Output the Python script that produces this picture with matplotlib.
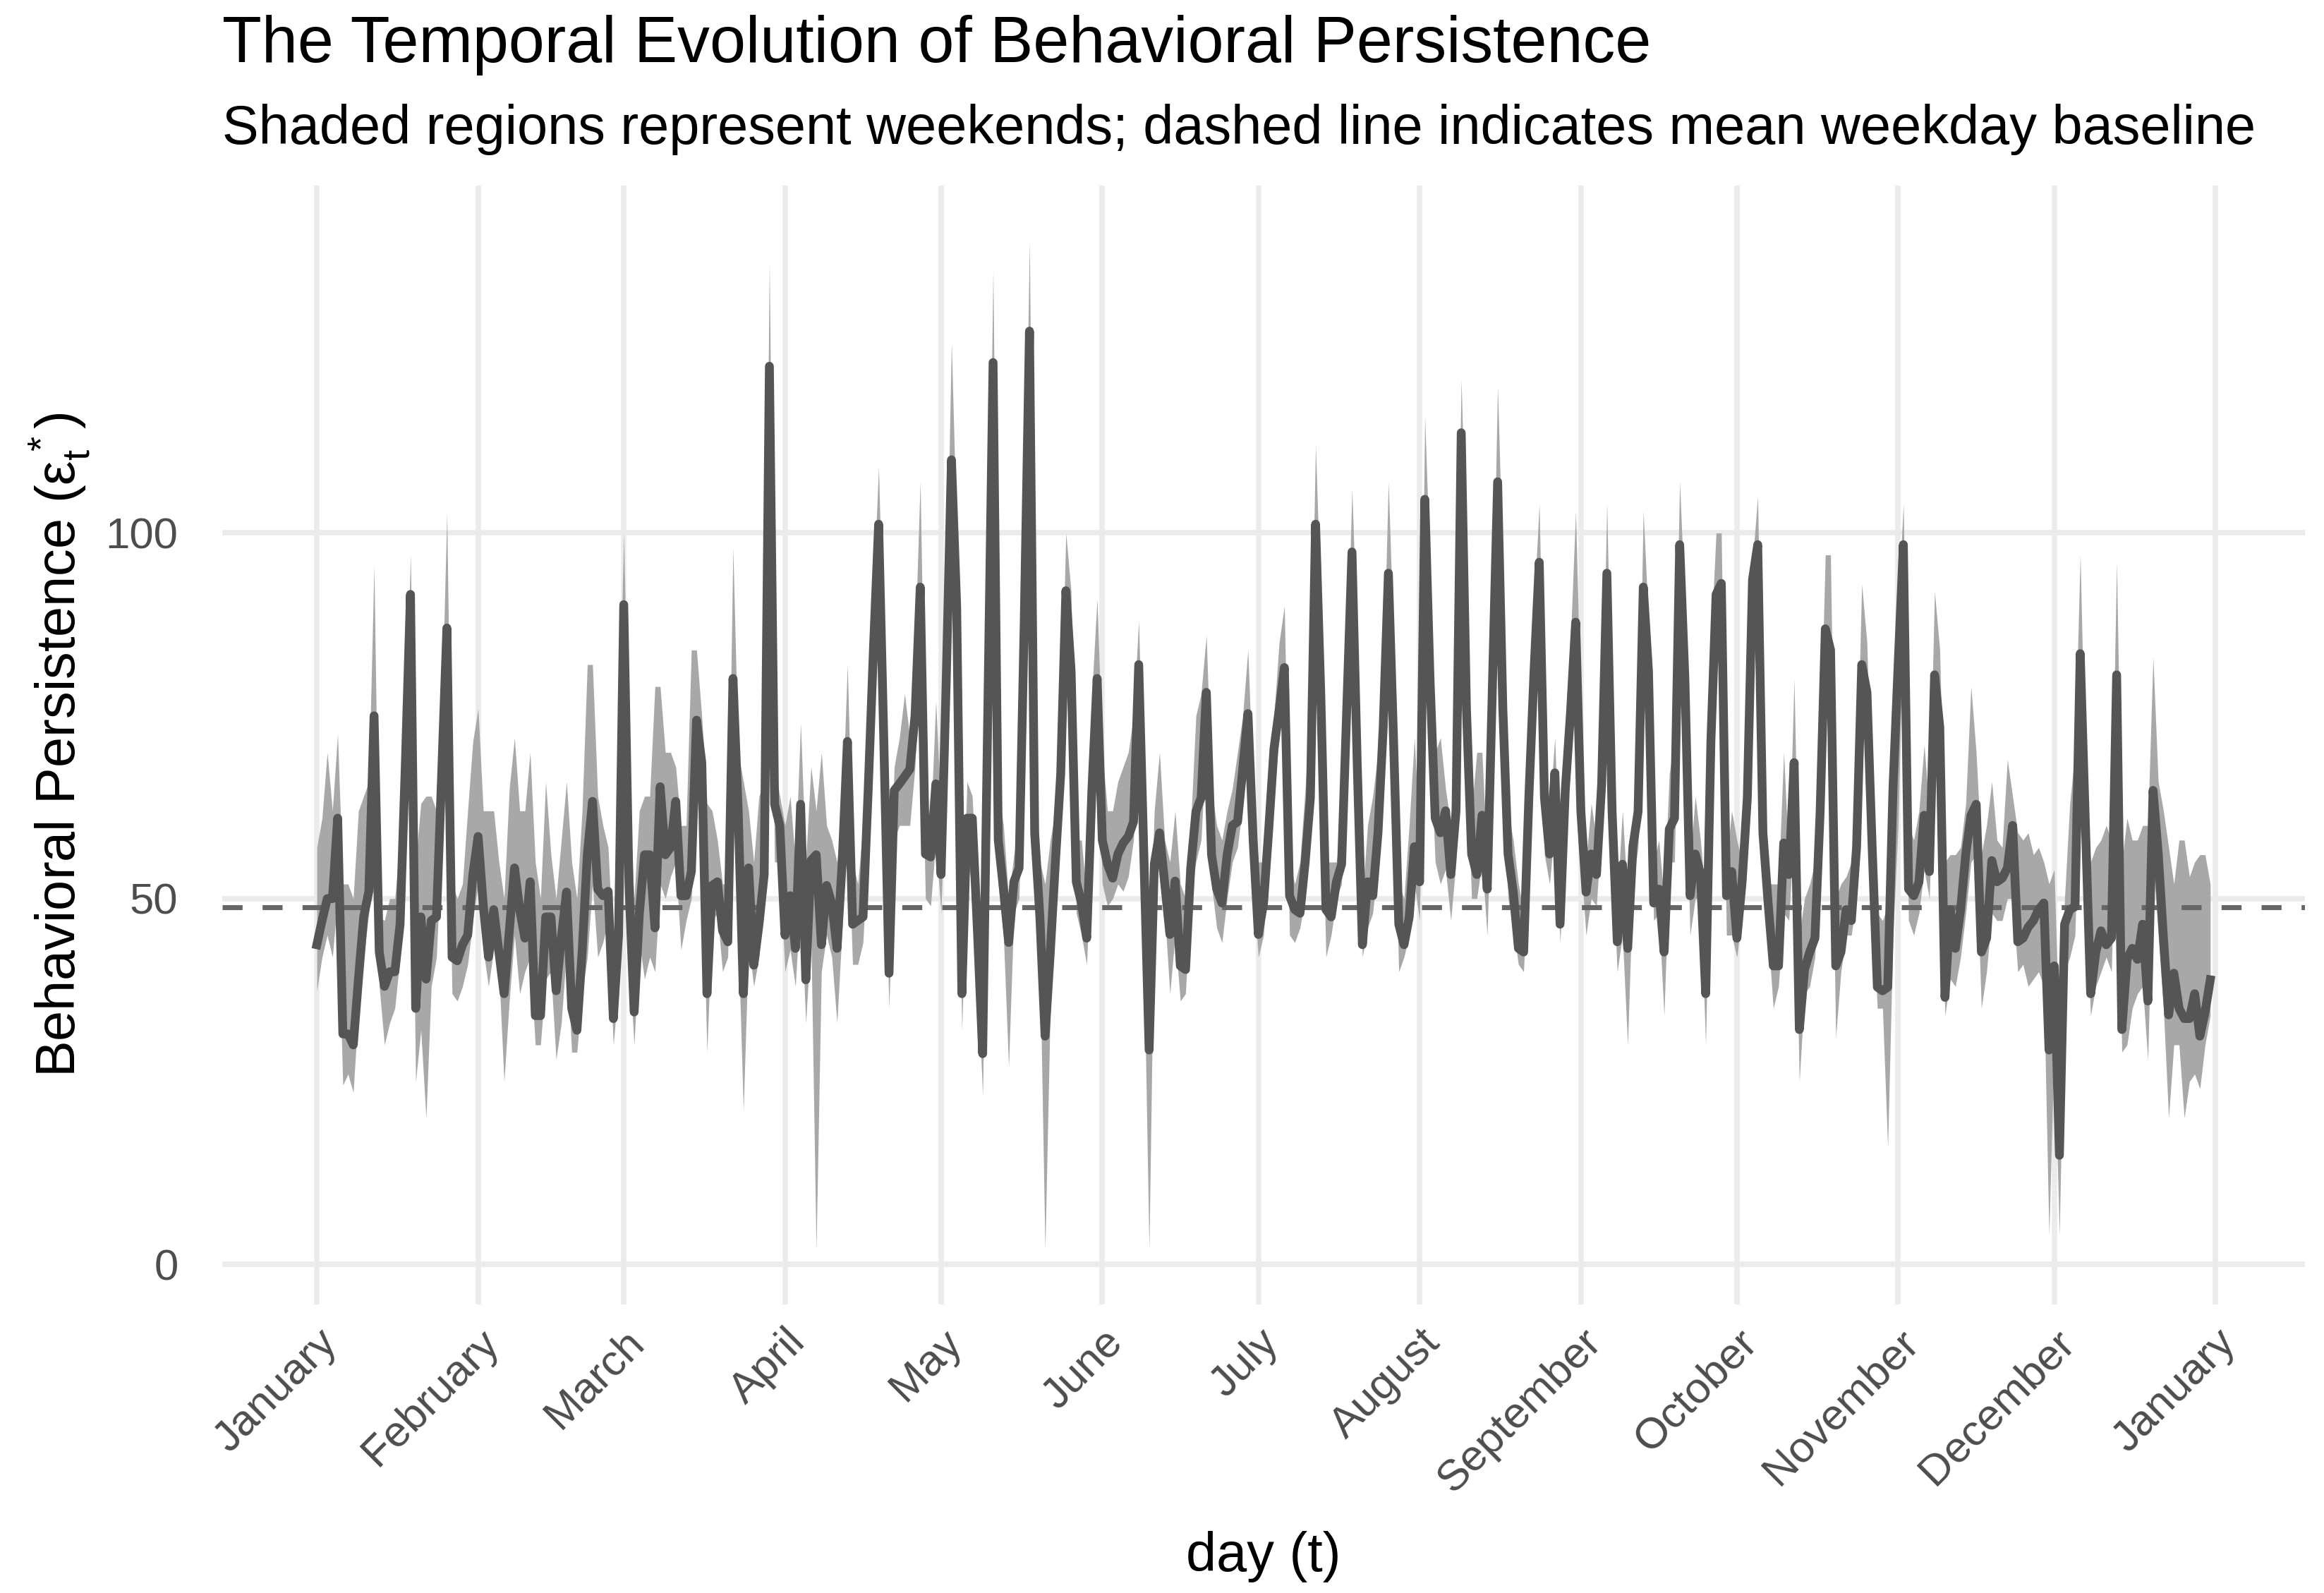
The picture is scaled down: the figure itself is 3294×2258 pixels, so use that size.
import matplotlib.pyplot as plt
import matplotlib.dates as mdates
import numpy as np
import pandas as pd

# daily behavioral persistence, one row per month
persistence = [
    43.7, 47, 50, 50, 61, 31.5, 31.5, 30, 39, 47.5, 51, 75, 42.7, 38, 40, 40, 46.5, 68, 91.6, 35, 47.5, 39, 47, 47.5, 67, 87, 42, 41.5, 43.7, 45, 53.3,
    58.5, 49, 42, 48.5, 42.7, 37, 45.6, 54.2, 48.5, 44.6, 52.3, 34, 34, 47.5, 47.5, 37.4, 44.6, 50.9, 35, 32, 42.7, 56, 63.3, 51.3, 50.4, 51, 33.6, 45,
    90.2, 52, 34.5, 48, 56, 56, 46, 65.3, 56, 57, 63.3, 50.4, 50.4, 53.7, 74.4, 68.6, 37, 51.8, 52.3, 45.6, 44.1, 80.1, 62, 37, 54.2, 40.9, 46.5, 53.3, 122.8, 62.9, 60,
    45, 50.4, 43.2, 62.9, 38.9, 55.2, 56, 43.7, 51.8, 49.3, 43.2, 55, 71.5, 46.5, 47, 47.5, 65, 84, 101.2, 71.5, 39.8, 64.8, 65.7, 66.7, 67.7, 75, 92.6, 56.1, 55.7, 65.7,
    53.3, 80, 110, 90, 37, 61, 61, 45.6, 28.8, 76, 123.3, 58, 51.3, 44, 52.3, 54.2, 88, 127.6, 59, 47.5, 31.2, 42.7, 55.2, 67, 92.1, 81.1, 52.3, 49.4, 44.6, 64.8, 80.1,
    58, 54.7, 52.8, 56.1, 57.6, 58.5, 60.5, 82, 55.7, 29.3, 54.7, 59, 52, 45.1, 52.4, 40.8, 40.3, 54.2, 61.9, 63.8, 78.2, 56, 51.3, 49.4, 56, 60, 60.5, 67.7, 75.3, 58,
    45.1, 49.4, 59.5, 70.5, 75.8, 81.6, 50.4, 48.5, 48, 55, 63.8, 101.2, 78, 48.5, 47.5, 52.3, 54.7, 76, 97.4, 68.6, 43.7, 52.3, 50.4, 59, 73.4, 94.5, 71.5, 46.5, 43.7, 47.5, 57.1,
    52.3, 104.6, 80, 61, 59, 62, 53.3, 62, 113.7, 76, 56.1, 53.3, 61.4, 51.3, 79, 107, 76, 56.1, 50.9, 43.2, 42.7, 63.8, 81.1, 96, 63.8, 56.1, 67.2, 46.5, 64.8, 75.3, 87.8,
    62, 50.9, 56.1, 53.3, 65.7, 94.5, 62, 44.1, 54.7, 43.2, 57.1, 61.9, 92.6, 81.1, 49.4, 51.3, 42.7, 59.5, 61, 98.4, 80, 50.4, 56.1, 53.3, 37, 71.5, 91.6, 93.1, 50.4, 53.7,
    44.6, 52.3, 63.8, 93.6, 98.4, 59, 49.4, 40.8, 40.8, 57.6, 53.3, 68.6, 32.1, 40.3, 42.7, 44.6, 61.9, 86.9, 84, 40.8, 42.7, 48.5, 47, 57, 82, 78.2, 57, 37.9, 37.4, 37.9, 65,
    82, 98.4, 51.3, 50.4, 52.3, 61.4, 53.7, 80.6, 73.4, 36.5, 48.5, 43.2, 48.5, 56.1, 61.4, 62.9, 42.7, 44.6, 55.2, 52.3, 52.8, 54.2, 60, 44.1, 44.6, 46.1, 47, 48.5, 49.4, 29.3,
    40.8, 14.9, 46.5, 48.5, 48.9, 83.5, 60, 37, 42.7, 45.6, 43.7, 44.6, 80.6, 32.1, 41.7, 43.2, 41.7, 46.5, 36, 64.8, 56.1, 44.6, 34.1, 39.8, 35, 33.6, 33.6, 37, 31.2, 34.5, 38.9,
]

# upper edge of the grey band
upper = [
    57, 61, 70, 62, 72.5, 52, 52, 50, 62, 64, 66, 95.5, 47.5, 47, 50, 50, 58, 72, 97, 55, 63, 64, 64, 62, 75, 102.7, 52, 50, 52, 62, 71.5,
    76, 62, 62, 62, 55, 50, 65, 72, 62, 62, 70, 55, 50, 66, 56, 50, 58, 66, 55, 50, 62, 82, 82, 64, 60, 57, 42, 70,
    100, 65, 50, 62, 64, 64, 79, 79, 70, 70, 68, 60, 60, 84, 84, 75, 63, 62, 58, 52, 52, 98, 70, 66, 62, 55, 64, 66, 137, 68, 64,
    60, 64, 55, 74, 55, 68, 62, 70, 60, 58, 55, 62, 82, 55, 52, 60, 72, 92, 109, 82, 48, 68, 72, 78, 72, 85, 107, 65, 60, 77,
    62, 90, 126, 100, 45, 66, 64, 50, 35, 86, 136, 65, 60, 50, 56, 60, 95, 140, 65, 55, 52, 58, 62, 72, 100, 92, 58, 58, 50, 78, 91,
    70, 62, 62, 66, 68, 70, 75, 88, 62, 40, 62, 70, 58, 55, 62, 52, 50, 60, 75, 78, 86, 65, 60, 58, 62, 65, 70, 75, 84, 65,
    55, 55, 65, 75, 85, 90, 55, 52, 55, 65, 75, 112, 90, 55, 55, 55, 60, 80, 106, 85, 50, 60, 64, 70, 80, 107, 85, 52, 50, 60, 72,
    58, 116, 95, 70, 72, 65, 60, 75, 121, 95, 62, 70, 70, 55, 85, 120, 95, 62, 58, 52, 48, 70, 90, 104, 70, 62, 72, 52, 70, 85, 103,
    75, 55, 63, 58, 70, 104, 70, 50, 62, 50, 60, 65, 103, 88, 55, 58, 50, 67, 72, 107, 90, 55, 64, 58, 50, 85, 100, 100, 55, 62,
    58, 55, 75, 96, 105, 65, 52, 52, 52, 70, 55, 80, 45, 50, 52, 55, 70, 97, 97, 50, 52, 53, 55, 65, 93, 85, 60, 48, 47, 49, 75,
    90, 104, 60, 58, 62, 71, 62, 92, 84, 55, 56, 56, 57, 63, 79, 70, 56, 60, 66, 58, 57, 69, 64, 59, 58, 59, 56, 57, 55, 52,
    54, 30, 50, 63, 70, 97, 66, 55, 57, 58, 60, 58, 96, 55, 61, 58, 58, 60, 60, 83, 66, 62, 57, 52, 58, 58, 53, 55, 56, 56, 52,
]

# lower edge of the grey band
lower = [
    37.4, 42, 45, 42, 50, 24.5, 26, 23.5, 35, 42, 48, 65, 38, 30, 33, 35, 42, 60, 80, 25, 32, 20, 38, 42, 58, 75, 37, 36, 38, 41, 47,
    52, 43, 38, 43, 40, 25, 36, 45, 37, 40, 42, 30, 30, 39, 40, 28, 33, 43, 29, 29, 37, 42, 52, 42, 44, 47, 30, 38,
    78, 42, 30, 44, 39, 42, 40, 52, 50, 53, 55, 43, 47, 50, 65, 58, 29, 47, 48, 40, 42, 70, 45, 21, 44, 38, 42, 50, 110, 55, 55,
    40, 43, 38, 50, 33, 45, 2, 40, 45, 42, 33, 46, 62, 41, 41, 44, 58, 76, 92, 62, 35, 58, 60, 60, 60, 68, 85, 50, 49, 58,
    48, 70, 100, 80, 32, 55, 52, 40, 23, 66, 115, 52, 45, 27, 48, 50, 80, 115, 55, 42, 2, 35, 50, 60, 85, 75, 48, 45, 41, 58, 75,
    52, 49, 50, 52, 51, 53, 58, 75, 42, 2, 50, 55, 48, 37, 45, 36, 37, 50, 55, 58, 72, 52, 46, 44, 50, 55, 57, 63, 70, 52,
    42, 45, 55, 65, 72, 78, 45, 44, 46, 50, 60, 95, 72, 42, 45, 50, 52, 70, 92, 62, 42, 46, 48, 55, 68, 90, 66, 40, 42, 45, 52,
    47, 95, 72, 55, 52, 54, 47, 55, 105, 70, 50, 50, 55, 45, 70, 98, 70, 50, 46, 41, 40, 57, 75, 88, 56, 52, 60, 44, 58, 68, 80,
    55, 45, 50, 49, 60, 85, 55, 40, 45, 30, 52, 57, 80, 70, 47, 48, 34, 55, 55, 88, 72, 45, 50, 50, 30, 65, 85, 85, 45, 45,
    42, 48, 58, 85, 90, 55, 45, 35, 38, 48, 47, 60, 25, 37, 38, 42, 58, 80, 78, 31, 40, 45, 45, 50, 75, 70, 50, 35, 35, 16, 45,
    60, 90, 47, 45, 48, 54, 50, 72, 65, 34, 39, 38, 42, 48, 55, 56, 35, 40, 48, 47, 47, 50, 50, 40, 41, 38, 39, 40, 38, 4,
    30, 4, 40, 42, 45, 70, 50, 34, 38, 40, 42, 40, 68, 29, 30, 35, 37, 38, 28, 55, 45, 35, 20, 30, 30, 20, 25, 26, 24, 30, 34,
]

baseline = 48.8  # mean weekday level
start_date = '2023-01-01'

days = pd.date_range(start_date, periods=len(persistence), freq='D')

plt.rcParams['font.family'] = ['Liberation Sans', 'DejaVu Sans']
plt.rcParams['mathtext.fontset'] = 'custom'
plt.rcParams['mathtext.rm'] = 'Liberation Sans'
plt.rcParams['mathtext.it'] = 'Liberation Sans'

fig = plt.figure(figsize=(3294 / 300, 2258 / 300), dpi=300)
ax = fig.add_axes([0.0956, 0.1811, 0.8962, 0.7024])

ax.fill_between(days, lower, upper, color='#A8A8A8', lw=0, zorder=2)
ax.axhline(baseline, color='#666666', lw=1.7, dashes=(4, 4), zorder=3)
ax.plot(days, persistence, color='#555555', lw=3.0, zorder=4)

# ggplot-like expansion of 5% on both axes
pad = pd.Timedelta(days=18.2)
ax.set_xlim(days[0] - pad, days[-1] + pad)
ax.set_ylim(-5.5, 147.5)
ax.set_yticks([0, 50, 100])

ax.xaxis.set_major_locator(mdates.MonthLocator())
ax.xaxis.set_major_formatter(mdates.DateFormatter('%B'))
ax.grid(True, color='#EBEBEB', lw=1.8, zorder=0)
ax.set_axisbelow(True)
for s in ax.spines.values():
    s.set_visible(False)
ax.tick_params(length=0, colors='#4D4D4D', labelsize=14.8)
ax.tick_params(axis='y', pad=15)
ax.tick_params(axis='x', pad=6)
for lab in ax.get_xticklabels():
    lab.set_rotation(45)
    lab.set_ha('right')
    lab.set_va('top')
    lab.set_rotation_mode('anchor')

fig.text(0.0956, 0.961, 'The Temporal Evolution of Behavioral Persistence',
         fontsize=22, ha='left', va='baseline')
fig.text(0.0956, 0.9097, 'Shaded regions represent weekends; dashed line indicates mean weekday baseline',
         fontsize=18.6, ha='left', va='baseline')
fig.text(0.0255, 0.1811 + 0.7024 / 2, r'Behavioral Persistence ($\varepsilon_t^*$)',
         fontsize=18.6, rotation=90, ha='center', va='center')
fig.text(0.0956 + 0.8962 / 2, 0.023, 'day (t)', fontsize=18.6, ha='center', va='center')

fig.savefig('out.png', dpi=300)
